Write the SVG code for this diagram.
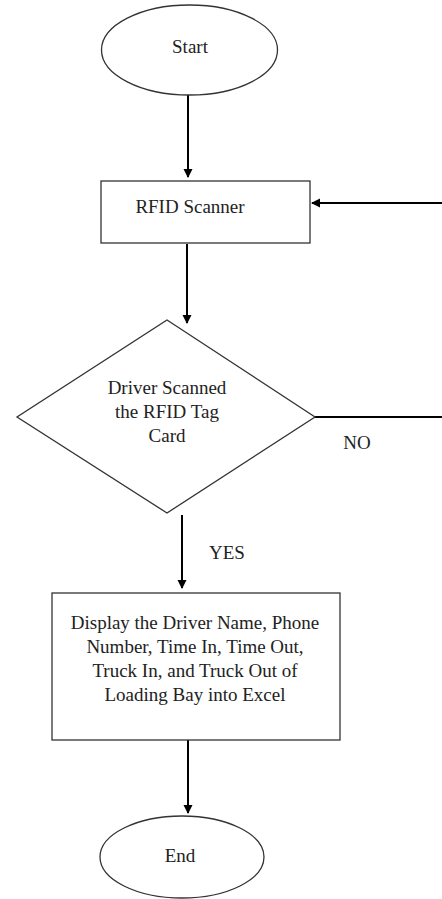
<svg xmlns="http://www.w3.org/2000/svg" width="442" height="899" viewBox="0 0 442 899">
<style>
.shape{fill:#fff;stroke:#333;stroke-width:1.3}
.conn{stroke:#000;stroke-width:2;fill:none}
.t{font-family:'Liberation Serif','Times New Roman','DejaVu Serif',serif;font-size:19px;fill:#222;text-anchor:middle}
</style>
<defs>
<marker id="ah" markerWidth="10" markerHeight="10" refX="8" refY="5" orient="auto" markerUnits="userSpaceOnUse">
<path d="M0,0.5 L9,5 L0,9.5 z" fill="#000"/>
</marker>
</defs>
<rect width="442" height="899" fill="#fff"/>
<g id="connectors">
<line class="conn" x1="188" y1="95" x2="188" y2="177" marker-end="url(#ah)"/>
<line class="conn" x1="442" y1="203" x2="312" y2="203" marker-end="url(#ah)"/>
<line class="conn" x1="187" y1="244" x2="187" y2="323" marker-end="url(#ah)"/>
<line class="conn" x1="315" y1="417" x2="442" y2="417"/>
<line class="conn" x1="182" y1="515" x2="182" y2="588" marker-end="url(#ah)"/>
<line class="conn" x1="188" y1="740" x2="188" y2="813" marker-end="url(#ah)"/>
<text class="t" x="357" y="449" font-family="Liberation Serif, serif">NO</text>
<text class="t" x="227" y="559" font-family="Liberation Serif, serif">YES</text>
</g>
<g id="start">
<ellipse class="shape" cx="189.5" cy="50" rx="88" ry="45"/>
<text class="t" x="190" y="53" font-family="Liberation Serif, serif">Start</text>
</g>
<g id="rfid">
<rect class="shape" x="101" y="181" width="209" height="62"/>
<text class="t" x="190" y="213" font-family="Liberation Serif, serif">RFID Scanner</text>
</g>
<g id="decision">
<polygon class="shape" points="167,320 315,417 167,513 17,417"/>
<text class="t" x="167" y="394" font-family="Liberation Serif, serif">Driver Scanned</text>
<text class="t" x="167" y="418" font-family="Liberation Serif, serif">the RFID Tag</text>
<text class="t" x="167" y="442" font-family="Liberation Serif, serif">Card</text>
</g>
<g id="display">
<rect class="shape" x="52" y="593" width="288" height="147"/>
<text class="t" x="195" y="629" font-family="Liberation Serif, serif">Display the Driver Name, Phone</text>
<text class="t" x="195" y="653" font-family="Liberation Serif, serif">Number, Time In, Time Out,</text>
<text class="t" x="195" y="677" font-family="Liberation Serif, serif">Truck In, and Truck Out of</text>
<text class="t" x="195" y="701" font-family="Liberation Serif, serif">Loading Bay into Excel</text>
</g>
<g id="end">
<ellipse class="shape" cx="182" cy="857" rx="82" ry="41"/>
<text class="t" x="180" y="862" font-family="Liberation Serif, serif">End</text>
</g>
</svg>
